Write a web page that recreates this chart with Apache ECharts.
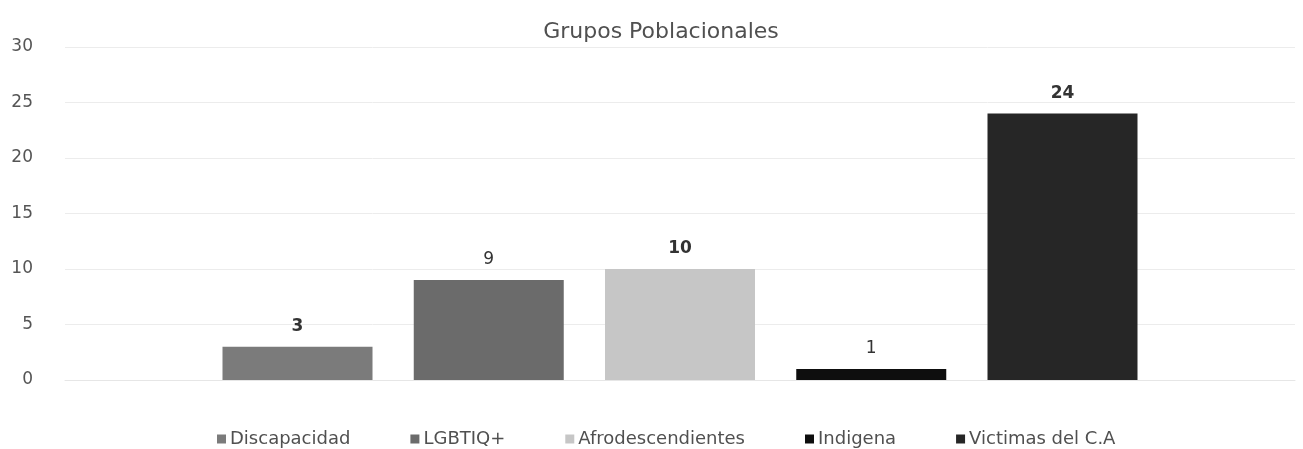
<!DOCTYPE html>
<html><head><meta charset="utf-8">
<script src="https://cdn.jsdelivr.net/npm/echarts@6/dist/echarts.min.js"></script>
<style>html,body{margin:0;padding:0;background:#fff}#c{width:1303px;height:449px}</style>
</head><body><div id="c"></div>
<script>
const seriesNames = ["Discapacidad", "LGBTIQ+", "Afrodescendientes", "Indigena", "Victimas del C.A"];
const seriesValues = [3, 9, 10, 1, 24];
const labelBold = [true, false, true, false, true];
const colors = ["#7b7b7b", "#6b6b6b", "#c6c6c6", "#0e0e0e", "#262626"];
const yTicks = [0, 5, 10, 15, 20, 25, 30];

const F = 'DejaVu Sans, Verdana, sans-serif';
const chart = echarts.init(document.getElementById('c'));
chart.setOption({
  animation: false,
  title: { text: 'Grupos Poblacionales', left: 656, top: 16, textAlign: 'center',
    textStyle: { fontFamily: F, fontSize: 22, fontWeight: 'normal', color: '#505050' } },
  legend: { top: 425, left: 212, itemWidth: 9, itemHeight: 9, itemGap: 60, icon: 'rect',
    textStyle: { fontFamily: F, fontSize: 18, color: '#505050', padding: [0,0,0,-1] },
    data: seriesNames },
  grid: { left: 65, right: 8, top: 47, bottom: 69, containLabel: false },
  xAxis: { type: 'category', data: [''], axisLine: { show: true, lineStyle: { color: '#e6e6e6' } },
    axisTick: { show: false }, axisLabel: { show: false } },
  yAxis: { type: 'value', min: yTicks[0], max: yTicks[yTicks.length-1], interval: 5,
    axisLine: { show: false }, axisTick: { show: false },
    axisLabel: { fontFamily: F, fontSize: 17, color: '#555', margin: 32 },
    splitLine: { lineStyle: { color: '#ececec' } } },
  series: seriesNames.map((n, i) => ({
    name: n, type: 'bar', data: [seriesValues[i]], barWidth: 150, barGap: '27.5%',
    itemStyle: { color: colors[i] },
    label: { show: true, position: 'top', distance: 12, fontFamily: F, fontSize: 17,
      fontWeight: labelBold[i] ? 'bold' : 'normal', color: '#333' }
  }))
});
</script></body></html>
